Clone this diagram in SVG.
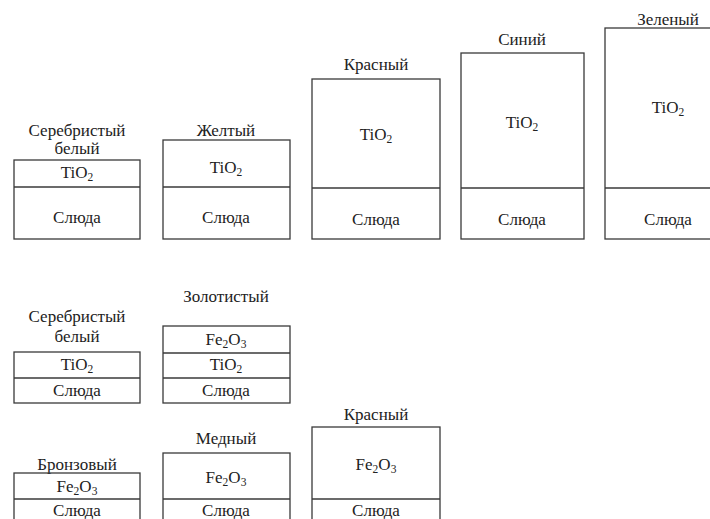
<svg xmlns="http://www.w3.org/2000/svg" width="710" height="519" viewBox="0 0 710 519" font-family="Liberation Serif, serif">
<style>
rect, line { fill: none; stroke: #3a3a3a; stroke-width: 1.3; }
text { font-size: 17px; fill: #222; text-anchor: middle; }
.s { font-size: 11.5px; }
</style>
<rect x="0" y="0" width="710" height="519" style="fill:#fff;stroke:none"/>
<g id="top-silver" font-family="Liberation Serif, serif">
<text x="77" y="136">Серебристый</text><text x="77" y="154">белый</text>
<rect x="14" y="160" width="126" height="79"/><line x1="14" y1="187" x2="140" y2="187"/>
<text x="77" y="178">TiO<tspan class="s" dy="3">2</tspan></text>
<text x="77" y="223">Слюда</text>
</g>
<g id="top-yellow" font-family="Liberation Serif, serif">
<text x="226" y="136">Желтый</text>
<rect x="163" y="140" width="127" height="99"/><line x1="163" y1="187" x2="290" y2="187"/>
<text x="226" y="173">TiO<tspan class="s" dy="3">2</tspan></text>
<text x="226" y="223">Слюда</text>
</g>
<g id="top-red" font-family="Liberation Serif, serif">
<text x="376" y="70">Красный</text>
<rect x="312" y="79" width="128" height="160"/><line x1="312" y1="188" x2="440" y2="188"/>
<text x="376" y="140">TiO<tspan class="s" dy="3">2</tspan></text>
<text x="376" y="225">Слюда</text>
</g>
<g id="top-blue" font-family="Liberation Serif, serif">
<text x="522" y="45">Синий</text>
<rect x="461" y="53" width="123" height="186"/><line x1="461" y1="188" x2="584" y2="188"/>
<text x="522" y="128">TiO<tspan class="s" dy="3">2</tspan></text>
<text x="522" y="225">Слюда</text>
</g>
<g id="top-green" font-family="Liberation Serif, serif">
<text x="668" y="25">Зеленый</text>
<rect x="605" y="28" width="127" height="211"/><line x1="605" y1="188" x2="732" y2="188"/>
<text x="668" y="113">TiO<tspan class="s" dy="3">2</tspan></text>
<text x="668" y="225">Слюда</text>
</g>
<g id="mid-silver" font-family="Liberation Serif, serif">
<text x="77" y="322">Серебристый</text><text x="77" y="342">белый</text>
<rect x="14" y="352" width="126" height="51"/><line x1="14" y1="378" x2="140" y2="378"/>
<text x="77" y="370">TiO<tspan class="s" dy="3">2</tspan></text>
<text x="77" y="396">Слюда</text>
</g>
<g id="mid-gold" font-family="Liberation Serif, serif">
<text x="226" y="302">Золотистый</text>
<rect x="163" y="326" width="127" height="77"/><line x1="163" y1="353" x2="290" y2="353"/><line x1="163" y1="378" x2="290" y2="378"/>
<text x="226" y="345">Fe<tspan class="s" dy="3">2</tspan><tspan dy="-3">O</tspan><tspan class="s" dy="3">3</tspan></text>
<text x="226" y="370">TiO<tspan class="s" dy="3">2</tspan></text>
<text x="226" y="396">Слюда</text>
</g>
<g id="bot-bronze" font-family="Liberation Serif, serif">
<text x="77" y="470">Бронзовый</text>
<rect x="14" y="473" width="126" height="52"/><line x1="14" y1="499" x2="140" y2="499"/>
<text x="77" y="492">Fe<tspan class="s" dy="3">2</tspan><tspan dy="-3">O</tspan><tspan class="s" dy="3">3</tspan></text>
<text x="77" y="516">Слюда</text>
</g>
<g id="bot-copper" font-family="Liberation Serif, serif">
<text x="226" y="444">Медный</text>
<rect x="163" y="453" width="127" height="72"/><line x1="163" y1="499" x2="290" y2="499"/>
<text x="226" y="483">Fe<tspan class="s" dy="3">2</tspan><tspan dy="-3">O</tspan><tspan class="s" dy="3">3</tspan></text>
<text x="226" y="516">Слюда</text>
</g>
<g id="bot-red" font-family="Liberation Serif, serif">
<text x="376" y="420">Красный</text>
<rect x="312" y="427" width="128" height="98"/><line x1="312" y1="499" x2="440" y2="499"/>
<text x="376" y="470">Fe<tspan class="s" dy="3">2</tspan><tspan dy="-3">O</tspan><tspan class="s" dy="3">3</tspan></text>
<text x="376" y="516">Слюда</text>
</g>
<g id="connectors"></g>
</svg>
